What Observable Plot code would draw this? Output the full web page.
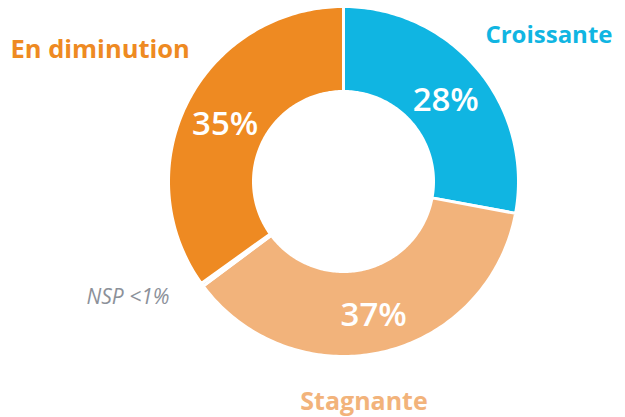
<!DOCTYPE html>
<html><head><meta charset="utf-8">
<script src="https://cdn.jsdelivr.net/npm/d3@7"></script>
<script src="https://cdn.jsdelivr.net/npm/@observablehq/plot@0.6"></script>
<style>body{margin:0;background:#fff}</style>
</head><body><div id="chart"></div>
<script>
const categories = ["Croissante", "Stagnante", "NSP", "En diminution"];
const values = [28, 37, 0.3, 35];
const valueLabels = ["28%", "37%", "", "35%"];
const categoryLabels = ["Croissante", "Stagnante", "NSP <1%", "En diminution"];
const colors = ["#10B5E2", "#F2B37B", "#D0D0D0", "#EE8A22"];

const W = 625, H = 417;
const cx = 343, cy = 181;          // donut centre in pixels
const R_OUT = 175, R_IN = 90, R_LAB = 133;

// build slice polygons in polar -> cartesian data units
const total = d3.sum(values);
let acc = 0;
const slices = categories.map((c, i) => {
  const a0 = acc / total * 2 * Math.PI;
  acc += values[i];
  const a1 = acc / total * 2 * Math.PI;
  return {cat: c, a0, a1, value: values[i], label: valueLabels[i]};
});
const pts = [];
for (const s of slices) {
  const n = Math.max(2, Math.ceil((s.a1 - s.a0) / (Math.PI / 180)));
  for (let k = 0; k <= n; k++) {
    const a = s.a0 + (s.a1 - s.a0) * k / n;
    pts.push({cat: s.cat, x: R_OUT * Math.sin(a), y: R_OUT * Math.cos(a)});
  }
  for (let k = n; k >= 0; k--) {
    const a = s.a0 + (s.a1 - s.a0) * k / n;
    pts.push({cat: s.cat, x: R_IN * Math.sin(a), y: R_IN * Math.cos(a)});
  }
}
const labs = slices.filter(s => s.label).map(s => {
  const a = (s.a0 + s.a1) / 2;
  return {label: s.label, x: R_LAB * Math.sin(a), y: R_LAB * Math.cos(a)};
});

const font = "'Open Sans', sans-serif";
const chart = Plot.plot({
  width: W, height: H,
  margin: 0,
  x: {domain: [-cx, W - cx], axis: null},
  y: {domain: [-(H - cy), cy], axis: null},
  color: {domain: categories, range: colors},
  style: {fontFamily: font, background: "#fff"},
  marks: [
    Plot.line(pts, {x: "x", y: "y", z: "cat", fill: "cat", stroke: "white", strokeWidth: 3, curve: "linear-closed"}),
    Plot.text(labs, {x: "x", y: "y", text: "label", fill: "white", fontSize: 33, fontWeight: 600, dy: 4}),
    Plot.text([categoryLabels[3]], {frameAnchor: "top-left", textAnchor: "start", lineAnchor: "middle", dx: 10, dy: 49, fill: colors[3], fontSize: 25.5, fontWeight: 700}),
    Plot.text([categoryLabels[0]], {frameAnchor: "top-right", textAnchor: "end", lineAnchor: "middle", dx: -13, dy: 35, fill: colors[0], fontSize: 24, fontWeight: 700}),
    Plot.text([categoryLabels[1]], {frameAnchor: "bottom", textAnchor: "middle", lineAnchor: "middle", dx: 51, dy: -16, fill: colors[1], fontSize: 25, fontWeight: 700}),
    Plot.text([categoryLabels[2]], {frameAnchor: "top-left", textAnchor: "start", lineAnchor: "middle", dx: 86, dy: 297, fill: "#8C919A", fontSize: 21, fontStyle: "italic", letterSpacing: 2})
  ]
});
document.getElementById("chart").appendChild(chart);
</script>
</body></html>
